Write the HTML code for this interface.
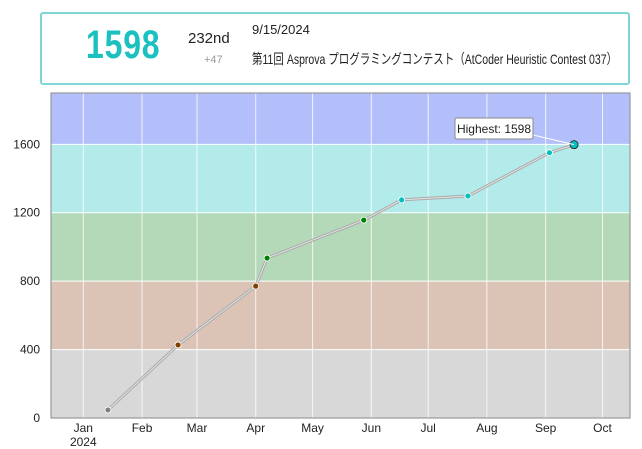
<!DOCTYPE html>
<html><head><meta charset="utf-8"><style>
body{margin:0;background:#fff;width:642px;height:449px;overflow:hidden;font-family:"Liberation Sans","Noto Sans CJK JP",sans-serif;}
#hdr{position:absolute;left:40px;top:12px;width:586px;height:69px;border:2px solid #7fd6d6;border-radius:3px;}
</style></head><body>
<div id="hdr">
  <div style="position:absolute;left:44px;top:9px;font-size:40px;font-weight:bold;color:#1bc0c0;transform:scaleX(0.8);transform-origin:left;letter-spacing:1px;">1598</div>
  <div style="position:absolute;left:146px;top:16px;font-size:15px;color:#222;">232nd</div>
  <div style="position:absolute;left:162px;top:40px;font-size:11px;color:#999;">+47</div>
  <div style="position:absolute;left:210px;top:8px;font-size:13px;color:#222;">9/15/2024</div>
  <div style="position:absolute;left:210px;top:35px;font-size:14px;color:#222;white-space:nowrap;transform:scaleX(0.75);transform-origin:left;">第11回 Asprova プログラミングコンテスト（AtCoder Heuristic Contest 037）</div>
</div>
<svg id="chart" width="642" height="449" style="position:absolute;left:0;top:0"></svg>
<script>
const dates=["2024-01-14","2024-02-20","2024-04-01","2024-04-07","2024-05-28","2024-06-17","2024-07-22","2024-09-03","2024-09-16"];
const ratings=[47,427,771,935,1157,1275,1298,1551,1598];
const yTicks=[0,400,800,1200,1600];
const monthLabels=["Jan","Feb","Mar","Apr","May","Jun","Jul","Aug","Sep","Oct"];
const bands=[[0,400,"#d8d8d8"],[400,800,"#dbc3b6"],[800,1200,"#b3d9b8"],[1200,1600,"#b3ebea"],[1600,1900,"#b3bffa"]];
const NS="http://www.w3.org/2000/svg";
const svg=document.getElementById('chart');
const L=51,R=630,T=93,B=418,YMAX=1900;
const t0=Date.UTC(2024,0,1),t1=Date.UTC(2024,9,1),x0=83.3,x1=602.5;
function xs(d){const t=typeof d==="number"?d:Date.parse(d+"T00:00:00Z");return x0+(t-t0)/(t1-t0)*(x1-x0);}
function ys(v){return B-v/YMAX*(B-T);}
function mk(tag,a){const e=document.createElementNS(NS,tag);for(const k in a)e.setAttribute(k,a[k]);svg.appendChild(e);return e;}
function col(v){return v<400?"#808080":v<800?"#804000":v<1200?"#008000":v<1600?"#00c0c0":"#0000ff";}
bands.forEach(b=>{const r=mk('rect',{x:L,y:ys(b[1]),width:R-L,height:ys(b[0])-ys(b[1]),fill:b[2]});

});
yTicks.forEach(v=>{const l=mk('line',{x1:L,x2:R,y1:ys(v),y2:ys(v),stroke:"#fff","stroke-width":1});


const t=mk('text',{x:40,y:ys(v)+4,"text-anchor":"end","font-size":12,fill:"#222"});t.textContent=v;

});
monthLabels.forEach((m,i)=>{const x=xs(Date.UTC(2024,i,1));
const l=mk('line',{x1:x,x2:x,y1:T,y2:B,stroke:"#fff","stroke-width":1,opacity:0.8});


const t=mk('text',{x:x,y:432,"text-anchor":"middle","font-size":12,fill:"#222"});t.textContent=m;

});
const yr=mk('text',{x:xs(t0),y:446,"text-anchor":"middle","font-size":12,fill:"#222"});yr.textContent="2024";


const fr=mk('rect',{x:L,y:T,width:R-L,height:B-T,fill:"none",stroke:"#999","stroke-width":1.2});


const pts=dates.map((d,i)=>xs(d)+","+ys(ratings[i])).join(" ");
const pl=mk('polyline',{points:pts,fill:"none",stroke:"#aaa","stroke-width":3});


const pl2=mk('polyline',{points:pts,fill:"none",stroke:"#e4e4e4","stroke-width":1});


dates.forEach((d,i)=>{const last=i===dates.length-1;
const c=mk('circle',{cx:xs(d),cy:ys(ratings[i]),r:last?4:3,fill:col(ratings[i]),stroke:last?"#333":"#fff","stroke-width":last?1:0.8});

});
const hi=ratings.indexOf(Math.max(...ratings));
const hx=xs(dates[hi]),hy=ys(ratings[hi]);
const ln=mk('line',{x1:533,y1:135,x2:hx,y2:hy,stroke:"#fff","stroke-width":1});


const bx=mk('rect',{x:455,y:118,width:78,height:21,rx:2,fill:"#fff",stroke:"#888","stroke-width":1});


const ht=mk('text',{x:494,y:133,"text-anchor":"middle","font-size":12,fill:"#222"});ht.textContent="Highest: "+ratings[hi];


</script>
</body></html>
